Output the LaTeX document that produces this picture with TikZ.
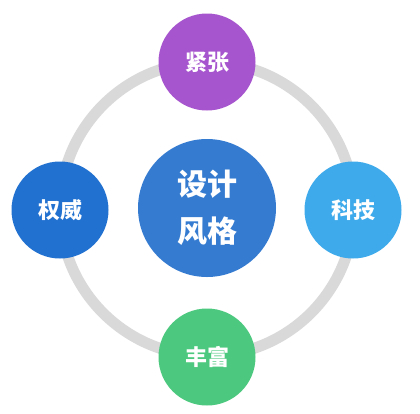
\documentclass[tikz,border=0pt]{standalone}
\usepackage{fontspec}
\newfontfamily\cjk{Noto Sans CJK SC}
\definecolor{ringgray}{HTML}{D9D9D9}
\definecolor{cpurple}{HTML}{A755CE}
\definecolor{cblueL}{HTML}{2171D0}
\definecolor{ccenter}{HTML}{357CD1}
\definecolor{csky}{HTML}{3EAAEB}
\definecolor{cgreen}{HTML}{4CC97E}
\tikzset{
  sat/.style={circle, fill=#1, minimum size=97pt, inner sep=0pt, text=white, font=\cjk\bfseries\fontsize{22}{24}\selectfont},
  hub/.style={circle, fill=ccenter, minimum size=138pt, inner sep=0pt, text=white, align=center, font=\cjk\bfseries\fontsize{30}{47}\selectfont},
  ring/.style={draw=ringgray, line width=11pt}
}
\begin{document}
\begin{tikzpicture}[x=1pt,y=-1pt]
\useasboundingbox[fill=white] (0,0) rectangle (420,413);
\coordinate (o) at (207,209);
\draw[ring] (o) circle (147);
\node[hub] (center) at (207,208) {设计\\风格};
\node[sat=cpurple] (top) at (207,62) {紧张};
\node[sat=cblueL] (left) at (60,210) {权威};
\node[sat=csky] (right) at (353,210) {科技};
\node[sat=cgreen] (bottom) at (207,357) {丰富};
\end{tikzpicture}
\end{document}
